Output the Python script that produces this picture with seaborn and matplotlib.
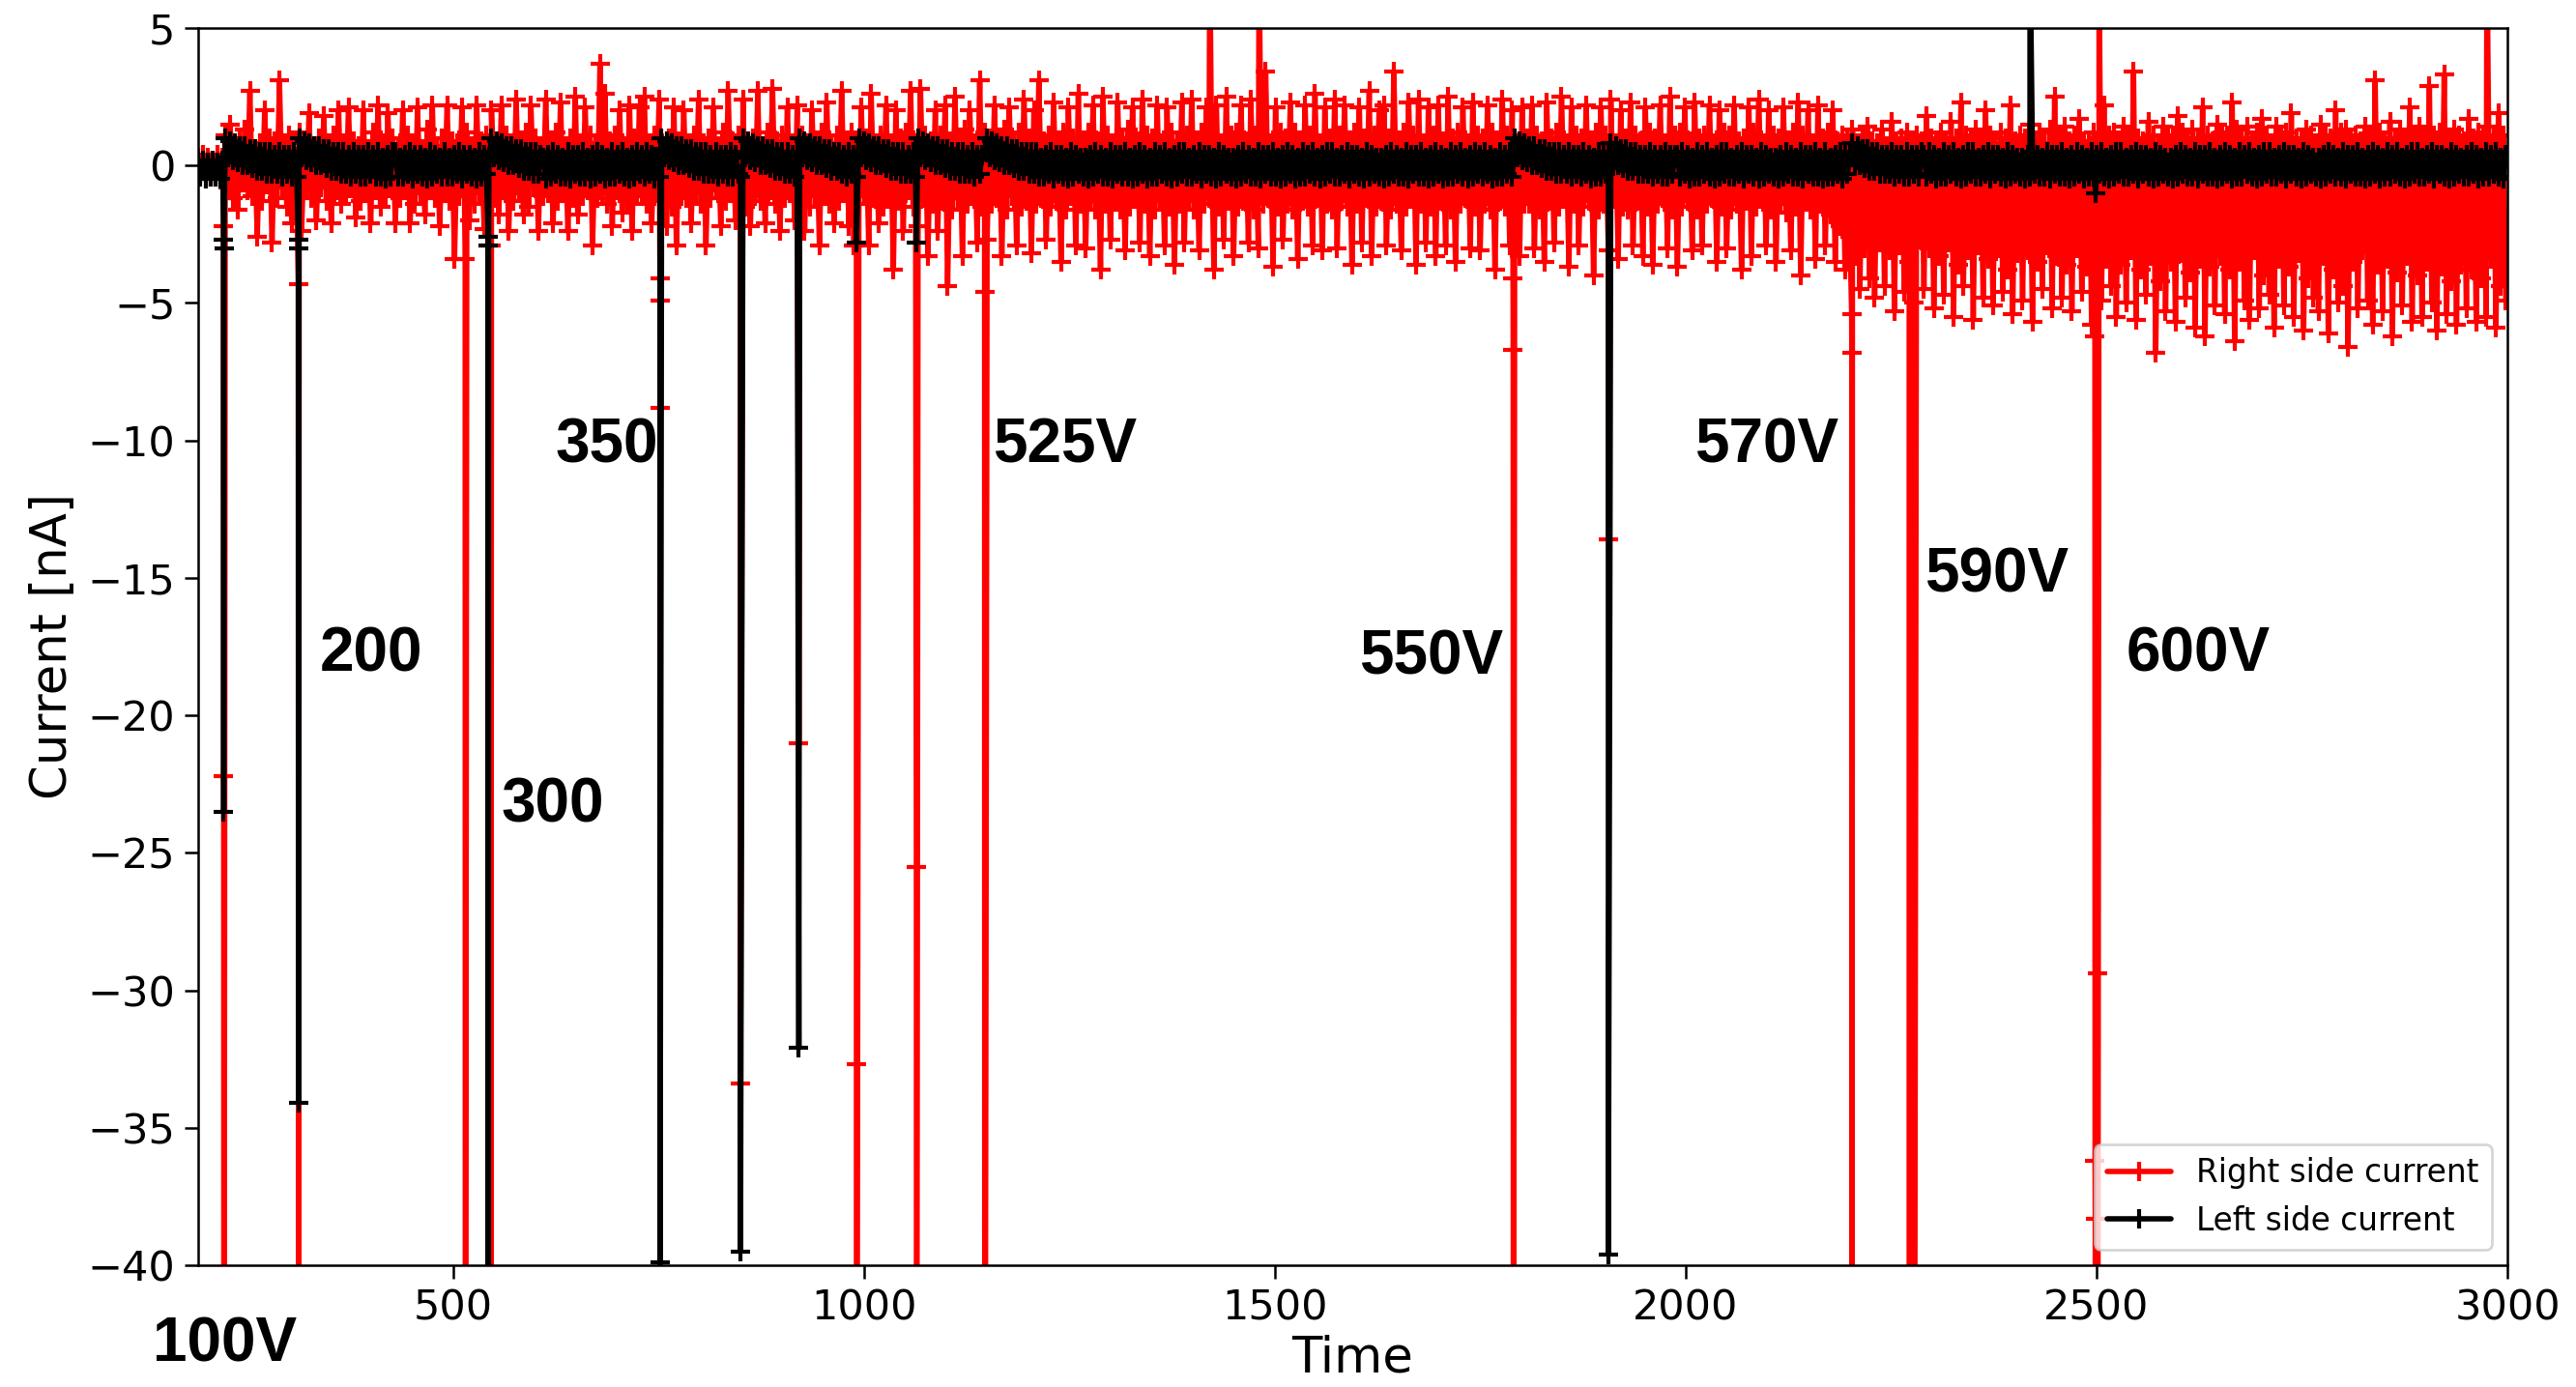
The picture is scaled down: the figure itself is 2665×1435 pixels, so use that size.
import numpy as np
import pandas as pd
import matplotlib
matplotlib.use("Agg")
import matplotlib.pyplot as plt
import seaborn as sns

# ---------------- data: currents in tenths of nA, one sample every 3 s from t=190 ----------------
t_start = 190
t_step = 3

right_tenths = [
    3, -3, 4, -2, 3, -4, 2, -3, 4, -2, 3, 11, -8, 15, -12, 7, -16, 10, -6, 13,
    -9, 27, -11, 6, -26, 8, -13, 20, -7, 10, -28, 9, -12, 31, -8, 7, -15, 11, -21, 6,
    -10, 12, -24, 8, -9, 19, -12, 6, -20, 10, -8, 18, -13, 7, -21, 11, -9, 20, -14, 8,
    -11, 21, -8, 9, -19, 7, -13, 20, -10, 6, -21, 12, -9, 22, -15, 8, -11, 19, -8, 10,
    -21, 7, -12, 20, -9, 11, -21, 8, -14, 21, -10, 6, -18, 13, -9, 22, -12, 7, -22, 10,
    -10, 22, -13, 9, -34, 8, -11, 21, -9, 12, -20, 7, -14, 22, -10, 9, -23, 11, -8, 20,
    -12, 8, -18, 22, -9, 11, -24, 7, -13, 24, -10, 9, -18, 12, -15, 22, -8, 10, -24, 7,
    -11, 24, -10, 8, -21, 12, -13, 23, -9, 7, -24, 10, -12, 25, -18, 8, -11, 21, -9, 11,
    -29, 8, -12, 37, -10, 26, -14, 9, -22, 11, -9, 20, -17, 7, -13, 22, -24, 10, -11, 21,
    -10, 25, -14, 8, -21, 11, -9, 24, -13, 7, -22, 10, -15, 21, -29, 9, -11, 20, -12, 8,
    -21, 11, -10, 24, -14, 8, -29, 10, -12, 21, -9, 7, -22, 12, -13, 27, -10, 9, -20, 11,
    -12, 24, -15, 8, -22, 10, -11, 27, -13, 7, -21, 12, -9, 28, -14, 9, -24, 11, -12, 21,
    -10, 8, -20, 22, -13, 11, -24, 7, -15, 20, -11, 9, -29, 12, -10, 23, -14, 8, -21, 11,
    -13, 27, -10, 9, -22, 12, -29, 8, -14, 21, -11, 10, -29, 26, -12, 7, -21, 11, -15, 22,
    -11, 8, -38, 20, -13, 10, -24, 12, -9, 27, -15, 8, -22, 28, -12, 11, -33, 9, -14, 20,
    -24, 11, -13, 22, -44, 9, -16, 25, -12, 10, -33, 13, -14, 20, -11, 8, -28, 31, -15, 12,
    -27, 10, -14, 22, -12, 9, -33, 13, -16, 21, -11, 8, -29, 12, -15, 24, -13, 10, -32, 20,
    -14, 31, -12, 9, -27, 11, -15, 23, -13, 8, -35, 12, -16, 21, -11, 10, -29, 26, -14, 9,
    -30, 12, -13, 22, -16, 9, -38, 25, -14, 11, -27, 8, -12, 23, -16, 10, -31, 13, -15, 21,
    -12, 9, -28, 24, -14, 11, -33, 10, -16, 22, -13, 8, -29, 21, -15, 12, -36, 9, -14, 23,
    -28, 11, -13, 24, -16, 9, -31, 12, -14, 21, -12, 10, -38, 22, -15, 8, -27, 25, -13, 11,
    -33, 12, -15, 22, -13, 9, -28, 24, -16, 11, -30, 10, -14, 34, -12, 8, -37, 21, -15, 12,
    -27, 10, -14, 23, -16, 12, -34, 9, -13, 22, -15, 11, -29, 26, -12, 8, -31, 21, -14, 10,
    -16, 24, -30, 11, -13, 22, -15, 9, -36, 12, -14, 21, -28, 10, -12, 27, -33, 11, -15, 20,
    -13, 22, -29, 10, -16, 34, -14, 9, -31, 12, -15, 23, -12, 11, -36, 24, -14, 8, -28, 21,
    -15, 11, -33, 22, -13, 9, -29, 25, -16, 10, -35, 12, -14, 21, -12, 8, -30, 23, -15, 11,
    -31, 10, -14, 22, -16, 12, -38, 9, -13, 24, -15, 11, -29, 20, -12, 8, -33, 21, -14, 10,
    -14, 22, -30, 11, -16, 9, -35, 23, -13, 10, -28, 12, -15, 25, -12, 8, -37, 21, -14, 11,
    -29, 10, -15, 22, -13, 9, -40, 12, -16, 21, -14, 11, -31, 24, -12, 8, -34, 20, -15, 10,
    -16, 23, -29, 11, -13, 9, -33, 21, -15, 12, -36, 10, -14, 22, -12, 8, -30, 25, -16, 11,
    -37, 12, -15, 21, -13, 9, -31, 23, -16, 10, -29, 11, -14, 22, -12, 8, -35, 20, -15, 12,
    -30, 11, -16, 22, -14, 9, -38, 10, -13, 21, -33, 12, -15, 24, -12, 8, -29, 20, -16, 11,
    -35, 10, -14, 21, -17, 9, -31, 12, -15, 23, -40, 11, -13, 20, -16, 8, -34, 22, -14, 10,
    -29, 12, -18, 20, -35, 9, -22, 11, -38, 10, -26, 13, -33, 8, -45, 11, -30, 14, -41, 9,
    -48, 8, -28, 13, -44, 7, -31, 16, -53, 9, -29, 10, -46, 12, -35, 8, -50, 11, -27, 9,
    -45, 18, -30, 10, -52, 8, -33, 12, -47, 9, -28, 16, -55, 10, -36, 23, -44, 11, -31, 9,
    -56, 13, -29, 9, -48, 20, -34, 11, -51, 8, -30, 12, -46, 10, -38, 22, -54, 9, -32, 11,
    -49, 10, -31, 15, -57, 9, -35, 12, -45, 8, -29, 13, -52, 25, -33, 10, -48, 14, -36, 9,
    -53, 11, -30, 17, -46, 9, -37, 8, -58, 12, -32, 10, -49, 22, -34, 11, -44, 12, -55, 9,
    -36, 14, -50, 11, -31, 34, -56, 10, -38, 9, -47, 16, -33, 11, -68, 8, -42, 14, -53, 10,
    -35, 11, -57, 18, -32, 12, -48, 10, -39, 13, -59, 9, -34, 21, -62, 11, -37, 9, -51, 15,
    -33, 12, -54, 11, -38, 23, -64, 13, -35, 10, -49, 14, -56, 9, -31, 12, -52, 17, -40, 11,
    -47, 8, -59, 14, -34, 11, -51, 12, -37, 19, -55, 10, -32, 9, -60, 13, -41, 11, -48, 8,
    -53, 15, -33, 11, -61, 10, -38, 20, -50, 12, -44, 13, -66, 10, -35, 11, -52, 9, -31, 14,
    -49, 11, -58, 31, -36, 12, -53, 9, -34, 16, -62, 10, -39, 13, -51, 9, -33, 21, -57, 11,
    -40, 14, -55, 10, -35, 29, -50, 11, -60, 12, -37, 33, -54, 10, -42, 13, -58, 11, -36, 9,
    -52, 17, -38, 10, -57, 12, -41, 11, -55, 14, -34, 10, -59, 19, -44, 11, -49,
]

# left-side current: quiet stretches and the relaxation after each voltage step (tenths of nA)
left_quiet_a = [4, -4, 5, -3, 4, -5, 3, -4, 5, -4, 4, -3, 5, -4, 3, -5, 4, -4, 5, -3]
left_quiet_b = [5, -4, 3, -4, 4, -3, 5, -5, 4, -3, 4, -4, 3, -5, 5, -4, 4, -3, 3, -4]
left_quiet_c = [3, -5, 4, -4, 5, -3, 4, -4, 3, -4, 5, -5, 4, -3, 4, -4, 5, -4, 3, -5]
left_relax = [10, 3, 9, 2, 8, 1, 7, 0, 7, 0, 6, -1, 6, -2, 5, -2, 5, -3, 5, -3]

left_segments = [
    [1, -4, 2, -5, 1, -4, 2, -4, 1, -5, 2, 10, 3, 9, 2, 8, 1, 7, 0, 7],
    [0, 6, -1, 6, -2, 5, -2, 5, -3, 5, -3, 4, -3, 5, -4, 4, -3, 4, -4, 5],
    [-4, 10, 3, 9, 2, 8, 1, 7, 0, 7, 0, 6, -1, 6, -2, 5, -2, 5, -3, 5],
    [-3, 4, -4, 5, -3, 4, -4, 4, -4, 5, -3, 4, -4, 5, -4, 3, -5, 4, -4, 5],
    left_quiet_b,
    [5, -4, 3, -4, 4, -3, 5, -5, 4, -3, 4, -4, 3, -5, 5, -4, 4, -3, 3, 10],
    [3, 9, 2, 8, 1, 7, 0, 7, 0, 6, -1, 6, -2, 5, -2, 5, -3, 5, -3, 4],
    left_quiet_c,
    left_quiet_a,
    [4, -4, 5, -3, 4, -5, 3, -4, 10, 3, 9, 2, 8, 1, 7, 0, 7, 0, 6, -1],
    [6, -2, 5, -2, 5, -3, 5, -3, 4, -3, 5, -4, 4, -3, 4, -4, 5, -4, 4, -3],
    [-4, 10, 3, 9, 2, 8, 1, 7, 0, 7, 0, 6, -1, 6, -2, 5, -2, 5, -3, 5],
    [-3, 4, -4, 5, 10, 3, 9, 2, 8, 1, 7, 0, 7, 0, 6, -1, 6, -2, 5, -2],
    [5, -3, 4, -4, 5, -3, 4, -4, 10, 3, 9, 2, 8, 1, 7, 0, 7, 0, 6, -1],
    [6, -2, 5, -2, 5, -3, 5, -3, 4, -3, 5, -4, 10, 3, 9, 2, 8, 1, 7, 0],
    [7, 0, 6, -1, 6, -2, 5, -2, 5, -3, 5, -3, 4, -3, 5, -4, 4, -3, 4, 5],
    left_relax,
    left_quiet_b, left_quiet_c, left_quiet_a, left_quiet_b, left_quiet_c,
    left_quiet_a, left_quiet_b, left_quiet_c, left_quiet_a,
    [4, -4, 5, -3, 4, -5, 3, -4, 5, -4, 4, -3, 5, -4, 10, 3, 9, 2, 8, 1],
    [7, 0, 7, 0, 6, -1, 6, -2, 5, -2, 5, -3, 5, -3, 4, -3, 5, -4, 4, -3],
    [4, -4, 5, -3, 4, -5, 3, -4, 5, -4, 4, -3, 5, 8, 1, 7, 0, 6, -1, 6],
    [-2, 5, -2, 5, -3, 4, -3, 4, -3, 5, -4, 4, -3, 4, -4, 5, -4, 4, -3, 4],
    left_quiet_a, left_quiet_b, left_quiet_c,
    [5, -4, 3, -4, 4, -3, 5, -5, 4, -3, 4, 8, 1, 7, 0, 6, -1, 6, -2, 5],
    [-2, 5, -3, 4, -3, 4, -3, 5, -4, 4, -3, 4, -4, 5, -4, 4, -3, 4, -4, 5],
    left_quiet_a, left_quiet_b, left_quiet_c, left_quiet_a, left_quiet_b,
    left_quiet_c, left_quiet_a, left_quiet_b, left_quiet_c, left_quiet_a, left_quiet_b,
    [4, -4, 5, -3, 4, -5, 3, -4, 5, -4, 4, -3, 5, -4, 3, -5, 4],
]

# voltage-step transients (time, successive samples in nA)
right_spike_times = [221, 312, 515, 546, 752, 850, 921, 991, 1064, 1147,
                     1421, 1481, 1790, 1906, 2202, 2272, 2278, 2498, 2501, 2503, 2975]
right_spike_paths = [[-2.2, -22.2, -60], [-4.3, -60], [-3.4, -60], [-2.9, -60],
                     [-4.1, -8.8, -60, -4.9], [-33.4], [-21.0], [-32.7, -60],
                     [-25.5, -60], [-4.6, -60], [8.0], [8.0], [-4.1, -6.7, -60],
                     [-13.6], [-5.4, -6.8, -60], [-60], [-60],
                     [-6.2, -36.2, -38.3, -60], [-29.4, -60], [8.0], [8.0]]

left_spike_times = [221, 312, 543, 752, 850, 921, 991, 1064, 1906, 2419, 2499]
left_spike_paths = [[-2.7, -23.5, -3.0], [-2.7, -34.1, -3.0], [-2.6, -60, -2.9],
                    [0.6, -39.9], [-39.5], [-32.1], [-2.8], [-2.8], [-39.6],
                    [8.0], [-1.0]]

label_texts = ["100V", "200", "300", "350", "525V", "550V", "570V", "590V", "600V"]
label_x = [223, 401, 621, 687, 1245, 1690, 2098, 2378, 2624]
label_y = [-42.9, -17.8, -23.3, -10.2, -10.2, -17.9, -10.2, -14.9, -17.8]


def build(noise_tenths, spike_times, spike_paths):
    times = list(t_start + t_step * np.arange(len(noise_tenths), dtype=float))
    vals = list(np.asarray(noise_tenths, dtype=float) / 10.0)
    for st, path in zip(spike_times, spike_paths):
        for k, v in enumerate(path):
            times.append(st + 0.2 * k)
            vals.append(v)
    df = pd.DataFrame({"Time": times, "Current": vals})
    return df.sort_values("Time", kind="stable").reset_index(drop=True)


left_tenths = [v for seg in left_segments for v in seg]
df_right = build(right_tenths, right_spike_times, right_spike_paths)
df_left = build(left_tenths, left_spike_times, left_spike_paths)

# ---------------- styling ----------------
sns.set_style("ticks", {"axes.edgecolor": "black", "xtick.color": "black",
                        "ytick.color": "black", "text.color": "black",
                        "axes.labelcolor": "black"})
plt.rcParams["font.family"] = ["DejaVu Sans"]

fig = plt.figure(figsize=(13.325, 7.175), dpi=200)
ax = fig.add_axes([0.0769, 0.0878, 0.8965, 0.892])

common = dict(sort=False, estimator=None, errorbar=None, linewidth=2.0,
              marker="+", markersize=7, markeredgewidth=1.5, ax=ax)
sns.lineplot(data=df_right, x="Time", y="Current", color="red",
             markeredgecolor="red", label="Right side current", **common)
sns.lineplot(data=df_left, x="Time", y="Current", color="black",
             markeredgecolor="black", label="Left side current", **common)

ax.set_xlim(190, 3000)
ax.set_ylim(-40, 5)
ax.set_xticks([500, 1000, 1500, 2000, 2500, 3000])
ax.set_yticks(np.arange(-40, 6, 5))
ax.tick_params(labelsize=15.5, width=0.9, length=5)
for sp in ax.spines.values():
    sp.set_linewidth(0.9)
    sp.set_visible(True)
ax.set_xlabel("Time", fontsize=18.5, labelpad=2)
ax.set_ylabel("Current [nA]", fontsize=18.5, labelpad=4)

for s, x, y in zip(label_texts, label_x, label_y):
    ax.text(x, y, s, fontsize=23, fontweight="bold", family="Liberation Sans",
            ha="center", va="center", clip_on=False)

ax.legend(loc="lower right", fontsize=11.8, frameon=True)

fig.savefig("out.png", dpi=200)
